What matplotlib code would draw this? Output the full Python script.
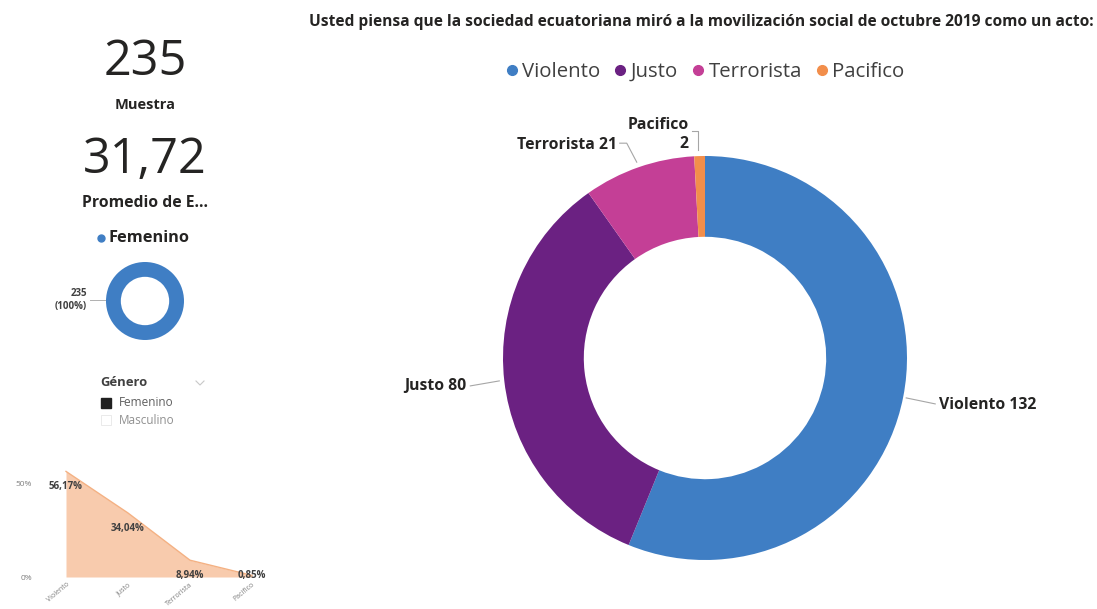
import numpy as np
import matplotlib
matplotlib.use("Agg")
import matplotlib.pyplot as plt
from matplotlib.lines import Line2D

# ---- data ----
categories = ["Violento", "Justo", "Terrorista", "Pacifico"]
counts = [132, 80, 21, 2]
percent_labels = ["56,17%", "34,04%", "8,94%", "0,85%"]
colors = ["#3F7EC4", "#6B2182", "#C43F96", "#F28E4B"]

sample_size = 235
mean_age = "31,72"
gender_labels = ["Femenino", "Masculino"]
gender_counts = [235, 0]

title = ("Usted piensa que la sociedad ecuatoriana miró a la movilización "
         "social de octubre 2019 como un acto:")

W, H = 1097, 609
FONT = "Open Sans"
DARK = "#252423"
GRAY = "#7F7F7F"

plt.rcParams["font.family"] = [FONT, "DejaVu Sans"]

fig = plt.figure(figsize=(W / 100, H / 100), dpi=100)
fig.patch.set_facecolor("white")

# overlay axes in pixel units (y measured downwards from the top edge)
ax = fig.add_axes([0, 0, 1, 1])
ax.set_xlim(0, W)
ax.set_ylim(0, H)
ax.axis("off")


def Y(py):
    return H - py


# ---- KPI cards ----
ax.text(145, Y(62), str(sample_size), ha="center", va="center",
        fontsize=35, color=DARK)
ax.text(145, Y(105), "Muestra", ha="center", va="center",
        fontsize=10.5, fontweight="bold", color=DARK)
ax.text(145, Y(160), mean_age, ha="center", va="center",
        fontsize=35, color=DARK)
ax.text(145, Y(203), "Promedio de E...", ha="center", va="center",
        fontsize=11.3, fontweight="bold", color=DARK)

# ---- gender donut ----
ax.plot([101], [Y(238)], marker="o", ms=5, color=colors[0], ls="none")
ax.text(108, Y(238), "Femenino", ha="left", va="center",
        fontsize=11.8, fontweight="bold", color=DARK)

g_cx, g_cy, g_r = 145, 301, 39
ax.pie(gender_counts, colors=[colors[0], "white"], startangle=90,
       counterclock=False, center=(g_cx, Y(g_cy)), radius=g_r,
       wedgeprops=dict(width=g_r * 0.38, linewidth=0), frame=True)
ax.set_xlim(0, W)
ax.set_ylim(0, H)
ax.set_aspect("auto")
ax.plot([90, g_cx - g_r - 1], [Y(300), Y(300)], color="#B0B0B0", lw=0.7)
ax.text(87, Y(300),
        f"{gender_counts[0]}\n({gender_counts[0] * 100 // sample_size}%)",
        ha="right", va="center", fontsize=7, fontweight="bold",
        color="#404040", linespacing=1.3)

# slicer-style legend
ax.text(100, Y(383), "Género", ha="left", va="center", fontsize=9.4,
        fontweight="bold", color="#404040")
ax.plot([196, 200, 204], [Y(381), Y(385), Y(381)], color="#C8C8C8", lw=0.8)
ax.plot([106], [Y(403)], marker="s", ms=6.5, color="#202020", ls="none")
ax.text(119, Y(403), gender_labels[0], ha="left", va="center",
        fontsize=8.5, color="#606060")
ax.plot([106], [Y(420)], marker="s", ms=6.5, mfc="white", mec="#E6E6E6",
        mew=0.6, ls="none")
ax.text(119, Y(420), gender_labels[1], ha="left", va="center",
        fontsize=8.5, color="#909090")

# ---- title and legend ----
ax.text(701, Y(22), title, ha="center", va="center", fontsize=11.2,
        fontweight="bold", color=DARK)
handles = [Line2D([], [], marker="o", ls="none", ms=7, color=c)
           for c in colors]
leg = ax.legend(handles, categories, ncol=4, loc="center",
                bbox_to_anchor=(703 / W, 1 - 72 / H), frameon=False,
                fontsize=14.7, handletextpad=0.0, columnspacing=0.5,
                handlelength=1.0)
for t in leg.get_texts():
    t.set_color("#404040")

# ---- main donut ----
cx, cy, R = 705, 358, 202
total = sum(counts)
ax.pie(counts, colors=colors, startangle=90, counterclock=False,
       center=(cx, Y(cy)), radius=R,
       wedgeprops=dict(width=R * 0.4, linewidth=0), frame=True)
ax.set_xlim(0, W)
ax.set_ylim(0, H)
ax.set_aspect("auto")

# leader lines: offsets (px, y downwards) from the wedge's outer midpoint
leaders = {
    "Violento": dict(pts=[(3, 1), (32, 7)], txt=(36, 8), ha="left"),
    "Justo": dict(pts=[(-5, 0), (-34, 5)], txt=(-38, 5), ha="right"),
    "Terrorista": dict(pts=[(-2, -5), (-12, -24), (-19, -24)],
                       txt=(-22, -22), ha="right"),
    "Pacifico": dict(pts=[(-2, -6), (-2, -25), (-8, -25)],
                     txt=(-11, -22), ha="right"),
}
cum = 0
for cat, n in zip(categories, counts):
    mid = np.deg2rad(90 - 360 * (cum + n / 2) / total)
    cum += n
    ex, ey = cx + R * np.cos(mid), cy - R * np.sin(mid)
    spec = leaders[cat]
    xs = [ex + dx for dx, dy in spec["pts"]]
    ys = [Y(ey + dy) for dx, dy in spec["pts"]]
    ax.plot(xs, ys, color="#A6A6A6", lw=0.8)
    tx, ty = ex + spec["txt"][0], ey + spec["txt"][1]
    label = f"{cat}\n{n}" if cat == "Pacifico" else f"{cat} {n}"
    ax.text(tx, Y(ty), label, ha=spec["ha"], va="center", fontsize=11.3,
            fontweight="bold", color=DARK, linespacing=1.25,
            multialignment="right")

# ---- small area chart ----
pct = [100 * n / total for n in counts]
px_unit, px_pct = 62, 1.88
x0_px, base_px = 66, 577
xl = (-0.35, 3.35)
yl = (0, 60)
left = x0_px + xl[0] * px_unit
width = (xl[1] - xl[0]) * px_unit
height = (yl[1] - yl[0]) * px_pct
ax2 = fig.add_axes([left / W, (H - base_px) / H, width / W, height / H])
ax2.patch.set_alpha(0)
xs = np.arange(len(categories))
ax2.fill_between(xs, pct, color="#F8CBAD", lw=0)
ax2.plot(xs, pct, color="#F4B183", lw=1.0)
for x, v, s in zip(xs, pct, percent_labels):
    ax2.text(x, max(v - 8, 0.6), s, ha="center", va="center",
             fontsize=7, fontweight="bold", color="#404040")
ax2.set_xlim(*xl)
ax2.set_ylim(*yl)
ax2.set_yticks([0, 50])
ax2.set_yticklabels(["0%", "50%"], fontsize=6, color=GRAY)
ax2.set_xticks(xs)
ax2.set_xticklabels(categories, fontsize=5, color=GRAY, rotation=40,
                    ha="right", rotation_mode="anchor")
ax2.tick_params(axis="x", length=0, pad=3)
ax2.tick_params(axis="y", length=0, pad=9)
for s in ax2.spines.values():
    s.set_visible(False)

fig.savefig("out.png", dpi=100, facecolor="white")
